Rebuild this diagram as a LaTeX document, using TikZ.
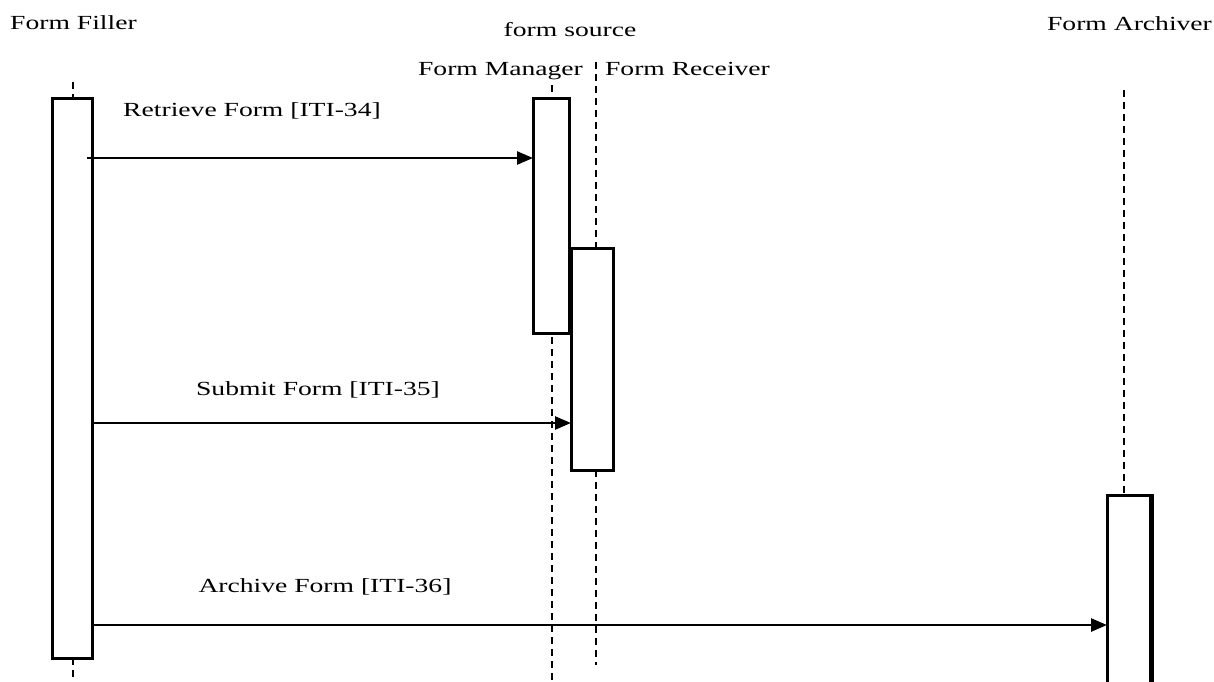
\documentclass[tikz,border=0pt]{standalone}
\usepackage{fontspec}
\setmainfont{Liberation Serif}
\usetikzlibrary{arrows.meta}
\newcommand\widetxt[1]{\scalebox{1.38}[1]{#1}}
\tikzset{
  lbl/.style={anchor=base, inner sep=0pt, font=\fontsize{20}{24}\selectfont},
  actbox/.style={draw, line width=3.2pt, fill=white, inner sep=0pt, anchor=north west},
  life/.style={line width=2.8pt, dash pattern=on 7pt off 5pt},
  msg/.style={line width=2.6pt, -{Triangle[length=16pt,width=13pt]}, shorten >=-1pt}
}
\begin{document}
\begin{tikzpicture}[x=1pt,y=-1pt]
\clip (0,0) rectangle (1214,681);
\fill[white] (0,0) rectangle (1214,681);
% lifelines
\coordinate (ffTop) at (73,82);
\coordinate (ffBot) at (73,690);
\coordinate (fmTop) at (552,85);
\coordinate (fmBot) at (552,690);
\coordinate (frTop) at (596,62);
\coordinate (frBot) at (596,665);
\coordinate (faTop) at (1124,90);
\coordinate (faBot) at (1124,494);
\draw[life] (ffTop) -- (ffBot);
\draw[life] (fmTop) -- (fmBot);
\draw[life] (frTop) -- (frBot);
\draw[life] (faTop) -- (faBot);
% activation boxes
\node[actbox, minimum width=40pt, minimum height=560pt] (ffbox) at (51,97) {};
\node[actbox, minimum width=36pt, minimum height=235pt] (fmbox) at (532,97) {};
\node[actbox, minimum width=42pt, minimum height=222pt] (frbox) at (570,247) {};
\node[actbox, minimum width=43pt, minimum height=200pt] (fabox) at (1106,494) {};
\draw[line width=1.5pt] ([xshift=1pt]fabox.north east) -- ([xshift=1pt]fabox.south east);
% labels
\node[lbl] (lff) at (73.5,29) {\widetxt{Form Filler}};
\node[lbl] (lsrc) at (570,36) {\widetxt{form source}};
\node[lbl] (lfm) at (500.5,75) {\widetxt{Form Manager}};
\node[lbl] (lfr) at (687.5,75) {\widetxt{Form Receiver}};
\node[lbl] (lfa) at (1129.5,30) {\widetxt{Form Archiver}};
% messages
\node[lbl] (m1) at (252,116) {\widetxt{Retrieve Form [ITI-34]}};
\node[lbl] (m2) at (318,395) {\widetxt{Submit Form [ITI-35]}};
\node[lbl] (m3) at (325,592) {\widetxt{Archive Form [ITI-36]}};
\draw[msg] ([xshift=-7pt]ffbox.east |- 0,158) -- (fmbox.west |- 0,158);
\draw[msg] (ffbox.east |- 0,423) -- (frbox.west |- 0,423);
\draw[msg] (ffbox.east |- 0,625) -- (fabox.west |- 0,625);
\end{tikzpicture}
\end{document}
